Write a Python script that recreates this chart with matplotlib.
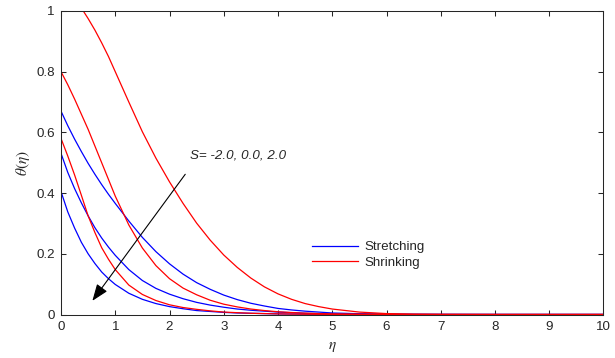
import matplotlib
matplotlib.use("Agg")
import matplotlib.pyplot as plt

plt.rcParams['font.family'] = ['Liberation Sans', 'DejaVu Sans']
plt.rcParams['mathtext.fontset'] = 'stix'

# eta sample positions
eta = [0, 0.125, 0.25, 0.375, 0.5, 0.625, 0.75, 0.875, 1.0, 1.25, 1.5, 1.75, 2.0,
       2.25, 2.5, 2.75, 3.0, 3.25, 3.5, 3.75, 4.0, 4.25, 4.5, 4.75, 5.0, 5.5,
       6.0, 6.5, 7.0, 8.0, 9.0, 10.0]

# Stretching (blue), S = -2.0, 0.0, 2.0
stretch_1 = [0.670, 0.622, 0.578, 0.537, 0.498, 0.462, 0.428, 0.396, 0.366, 0.308, 0.254, 0.207, 0.167,
             0.133, 0.105, 0.083, 0.064, 0.049, 0.037, 0.028, 0.020, 0.015, 0.011, 0.008, 0.005, 0.0025,
             0.001, 0.0005, 0.0002, 0.0, 0.0, 0.0]
stretch_2 = [0.531, 0.468, 0.415, 0.368, 0.325, 0.286, 0.252, 0.222, 0.195, 0.148, 0.112, 0.086, 0.067,
             0.052, 0.040, 0.031, 0.024, 0.018, 0.014, 0.011, 0.008, 0.006, 0.004, 0.003, 0.002, 0.001,
             0.0005, 0.0002, 0.0001, 0.0, 0.0, 0.0]
stretch_3 = [0.405, 0.338, 0.285, 0.238, 0.200, 0.168, 0.140, 0.118, 0.099, 0.070, 0.050, 0.036, 0.026,
             0.019, 0.013, 0.010, 0.007, 0.005, 0.004, 0.003, 0.002, 0.0015, 0.001, 0.0007, 0.0005, 0.0002,
             0.0001, 0.0, 0.0, 0.0, 0.0, 0.0]

# Shrinking (red), S = -2.0, 0.0, 2.0
shrink_1 = [1.080, 1.062, 1.040, 1.010, 0.975, 0.937, 0.895, 0.850, 0.800, 0.700, 0.602, 0.515, 0.437,
            0.366, 0.301, 0.245, 0.196, 0.155, 0.120, 0.091, 0.068, 0.050, 0.036, 0.026, 0.018, 0.008,
            0.003, 0.001, 0.0003, 0.0, 0.0, 0.0]
shrink_2 = [0.800, 0.757, 0.710, 0.660, 0.610, 0.555, 0.500, 0.445, 0.390, 0.295, 0.219, 0.161, 0.118,
            0.087, 0.065, 0.047, 0.034, 0.025, 0.018, 0.013, 0.009, 0.0065, 0.0045, 0.003, 0.002, 0.001,
            0.0005, 0.0002, 0.0001, 0.0, 0.0, 0.0]
shrink_3 = [0.580, 0.522, 0.460, 0.393, 0.325, 0.270, 0.220, 0.182, 0.148, 0.097, 0.066, 0.046, 0.032,
            0.023, 0.017, 0.012, 0.008, 0.006, 0.004, 0.003, 0.002, 0.0015, 0.001, 0.0007, 0.0005, 0.0002,
            0.0001, 0.0, 0.0, 0.0, 0.0, 0.0]

xticks = [0, 1, 2, 3, 4, 5, 6, 7, 8, 9, 10]
yticks = [0, 0.2, 0.4, 0.6, 0.8, 1]
ytick_labels = ['0', '0.2', '0.4', '0.6', '0.8', '1']

fig = plt.figure(figsize=(6.15, 3.58), dpi=100)
ax = fig.add_axes([0.0992, 0.1215, 0.8821, 0.8478])

lw = 0.9
l1, = ax.plot(eta, stretch_1, color=(0, 0, 1), lw=lw)
ax.plot(eta, stretch_2, color=(0, 0, 1), lw=lw)
ax.plot(eta, stretch_3, color=(0, 0, 1), lw=lw)
l2, = ax.plot(eta, shrink_1, color=(1, 0, 0), lw=lw)
ax.plot(eta, shrink_2, color=(1, 0, 0), lw=lw)
ax.plot(eta, shrink_3, color=(1, 0, 0), lw=lw)

ax.set_xlim(0, 10)
ax.set_ylim(0, 1)
ax.set_xticks(xticks)
ax.set_yticks(yticks)
ax.set_yticklabels(ytick_labels)

axcol = '#262626'
for s in ax.spines.values():
    s.set_color(axcol)
    s.set_linewidth(0.75)
ax.tick_params(direction='in', length=3.9, width=0.75, colors=axcol,
               labelsize=9.6, top=True, right=True, pad=4.5)

ax.set_xlabel(r'$\eta$', fontsize=11, color=axcol, labelpad=5)
ax.set_ylabel(r'$\theta(\eta)$', fontsize=11, color=axcol, labelpad=3)

ax.annotate('', xy=(0.578, 0.045), xytext=(2.29, 0.462),
            arrowprops=dict(arrowstyle='-|>,head_length=0.85,head_width=0.32',
                            color='k', lw=0.8, mutation_scale=12,
                            shrinkA=0, shrinkB=0))
ax.text(2.37, 0.525, 'S= -2.0, 0.0, 2.0', style='italic', fontsize=9.6,
        color=axcol, va='center', ha='left')

leg = ax.legend([l1, l2], ['Stretching', 'Shrinking'], loc='center left',
                bbox_to_anchor=(0.463, 0.196), frameon=False, fontsize=9.6,
                handlelength=3.4, handletextpad=0.5, labelspacing=0.25,
                borderpad=0, borderaxespad=0)
for t in leg.get_texts():
    t.set_color(axcol)

fig.savefig('out.png', dpi=100)
